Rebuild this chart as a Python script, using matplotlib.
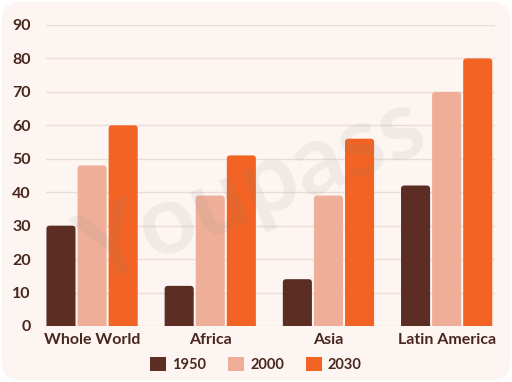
import numpy as np
import matplotlib.pyplot as plt
from matplotlib.patches import FancyBboxPatch, Patch

regions = ["Whole World", "Africa", "Asia", "Latin America"]
years = ["1950", "2000", "2030"]
vals_1950 = [30, 12, 14, 42]
vals_2000 = [48, 39, 39, 70]
vals_2030 = [60, 51, 56, 80]
yticks = [0, 10, 20, 30, 40, 50, 60, 70, 80, 90]

colors = ["#5b2d23", "#eeae98", "#f26324"]
txt = "#4a2620"
bg = "#fdf5f2"

plt.rcParams["font.family"] = ["Lato", "DejaVu Sans"]

fig = plt.figure(figsize=(5.12, 3.82), dpi=100, facecolor="white")
fig.patches.append(FancyBboxPatch((0.004, 0.005), 0.992, 0.99,
                                  boxstyle="round,pad=0,rounding_size=0.04",
                                  transform=fig.transFigure, facecolor=bg,
                                  edgecolor="none", zorder=-5))
ax = fig.add_axes([0.0898, 0.1466, 0.8772, 0.788])
ax.set_facecolor("none")
ax.set_zorder(2)
ax.set_axisbelow(True)

x = np.arange(len(regions))
step = 0.263
w = 0.246
for i, (vals, c) in enumerate(zip([vals_1950, vals_2000, vals_2030], colors)):
    bars = ax.bar(x + (i - 1) * step, vals, width=w, color=c, label=years[i], zorder=3)
    # swap in bars with slightly rounded tops
    for b in bars:
        b.set_visible(False)
        ax.add_patch(FancyBboxPatch((b.get_x(), -3), b.get_width(), b.get_height() + 3,
                                    boxstyle="round,pad=0,rounding_size=0.028",
                                    mutation_aspect=36, facecolor=c, edgecolor="none",
                                    zorder=3))

# faint watermark
ax.text(0.46, 0.45, "Youpass", transform=ax.transAxes, fontsize=70, fontweight="bold",
        color="#8a8a8a", alpha=0.11, rotation=22, ha="center", va="center", zorder=5)

ax.set_xlim(-0.39, 3.41)
ax.set_ylim(0, 90)
ax.set_yticks(yticks)
ax.set_xticks(x)
ax.set_xticklabels(regions)
ax.grid(axis="y", color="#ecdcd7", lw=1)
for s in ax.spines.values():
    s.set_visible(False)
ax.tick_params(length=0, colors=txt, labelsize=11.5)
ax.tick_params(axis="y", pad=11)
ax.tick_params(axis="x", pad=5)
for lab in ax.get_xticklabels() + ax.get_yticklabels():
    lab.set_fontweight("bold")
    lab.set_color(txt)

handles = [Patch(facecolor=c) for c in colors]
leg = fig.legend(handles, years, loc="center", bbox_to_anchor=(0.5, 0.045), ncol=3,
                 frameon=False, fontsize=10.5, handlelength=1.1, handleheight=1.1,
                 columnspacing=1.5, handletextpad=0.4)
for t in leg.get_texts():
    t.set_color(txt)
    t.set_fontweight("bold")

fig.savefig("out.png", dpi=100, facecolor="white")
